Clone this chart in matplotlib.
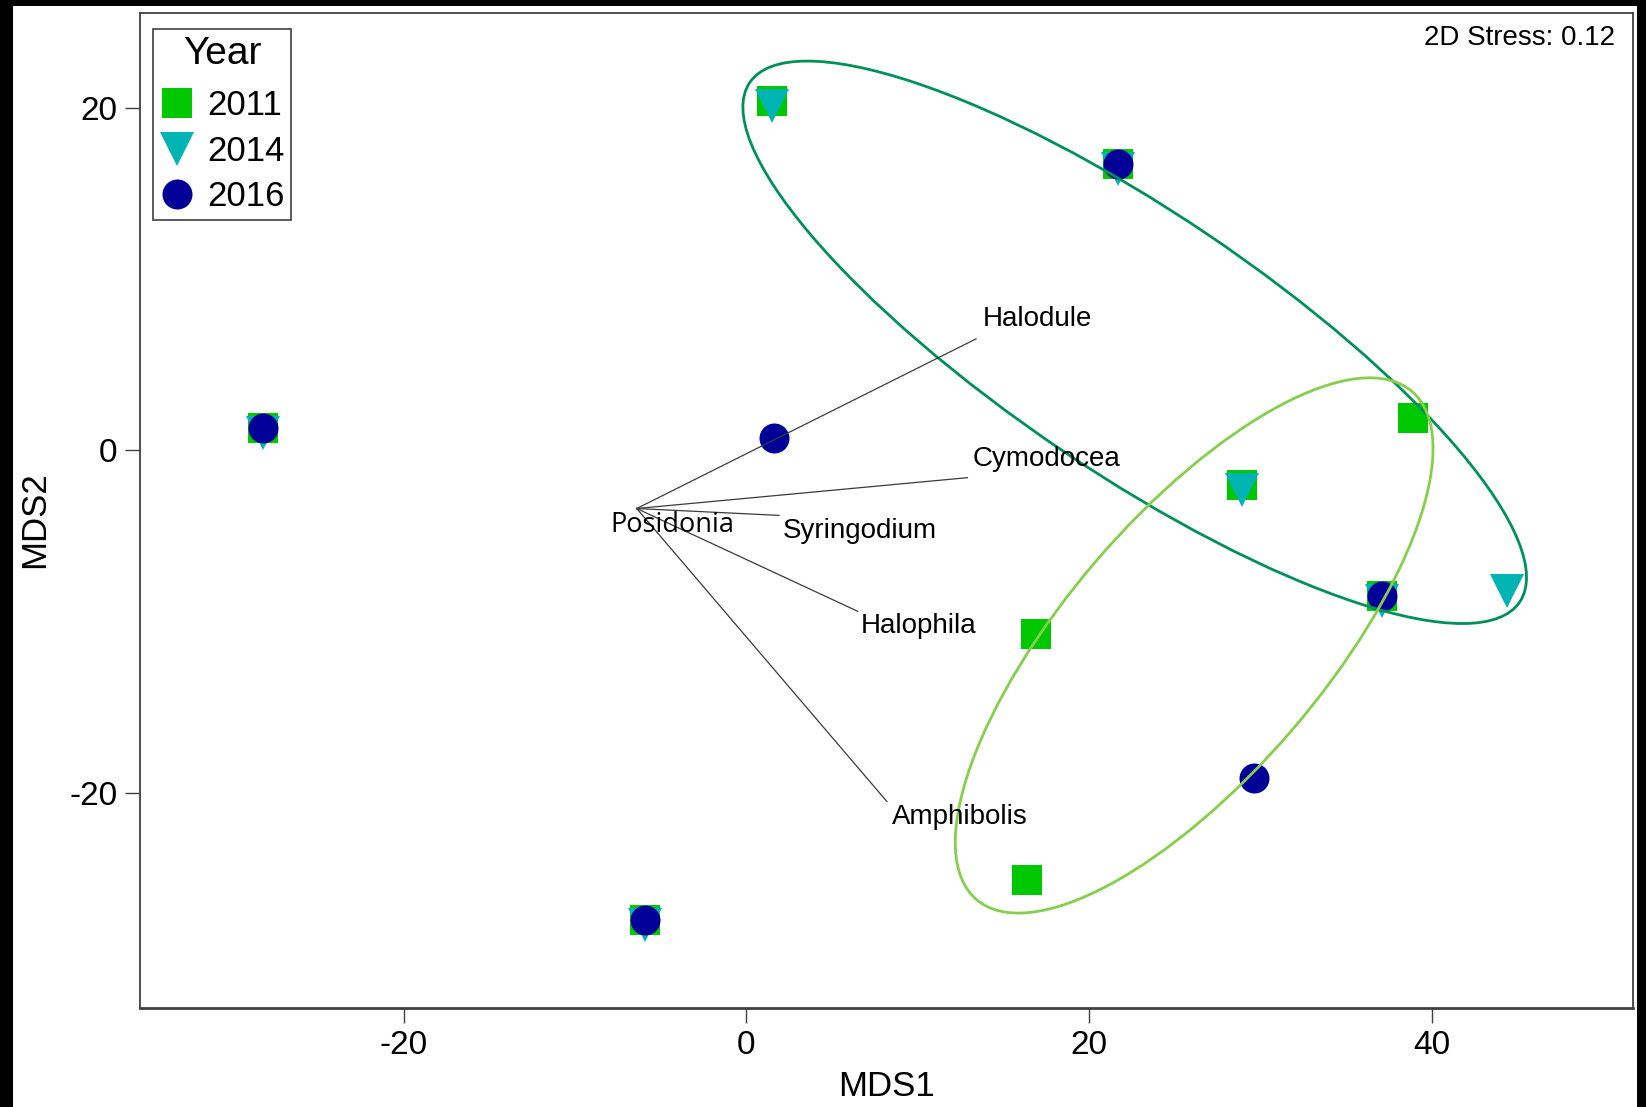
import matplotlib
matplotlib.use("Agg")
from matplotlib import pyplot as plt
from matplotlib.patches import Ellipse, Rectangle
from matplotlib.lines import Line2D

plt.rcParams['font.family'] = ['Liberation Sans', 'DejaVu Sans']
plt.rcParams['axes.unicode_minus'] = False

# nMDS scores per survey year
x_2011 = [1.5, 21.7, -28.2, 38.9, 28.9, 37.1, 16.9, 16.4, -5.9]
y_2011 = [20.4, 16.7, 1.3, 1.9, -2.0, -8.5, -10.7, -25.1, -27.4]
x_2014 = [1.5, 21.7, -28.2, 28.9, 37.1, 44.4, -5.9]
y_2014 = [20.1, 16.4, 1.0, -2.3, -8.8, -8.2, -27.7]
x_2016 = [21.7, -28.2, 1.6, 37.1, 29.6, -5.9]
y_2016 = [16.7, 1.3, 0.7, -8.5, -19.1, -27.4]

# species vectors (start at the Posidonia point)
species = ['Halodule', 'Cymodocea', 'Syringodium', 'Halophila', 'Amphibolis']
vec_x = [13.4, 12.9, 1.9, 6.5, 8.2]
vec_y = [6.5, -1.6, -3.8, -9.4, -20.5]
origin_name = 'Posidonia'
origin_x = -6.4
origin_y = -3.4

# group ellipses: centre x, centre y, width, height, angle
ell_dark = [22.66, 6.3, 54.2, 15.2, -34.0]
ell_light = [26.13, -11.39, 39.05, 15.1, 49.4]

stress = 0.12

# label offsets in points
lab_off = [(4.5, 14), (4, 13.5), (3, -11), (2.5, -10.5), (3.5, -11)]

W, H = 1646, 1107
fig = plt.figure(figsize=(W / 100, H / 100), dpi=100, facecolor='black')
fig.patches.append(Rectangle((13 / W, 0), (1637 - 13) / W, 1 - 6 / H,
                             transform=fig.transFigure, facecolor='white',
                             edgecolor='none', zorder=-5))

ax = fig.add_axes([139.6 / W, 1 - 1007.7 / H, (1632.5 - 139.6) / W, (1007.7 - 12.6) / H])
ax.set_xlim(-35.41, 51.71)
ax.set_ylim(-32.53, 25.54)

ms = 21.6
ax.plot(x_2011, y_2011, 's', color='#00C800', ms=ms, mew=0, zorder=3)
ax.plot(x_2014, y_2014, 'v', color='#00B4B4', ms=24, mew=0, zorder=4)
ax.plot(x_2016, y_2016, 'o', color='#000099', ms=ms, mew=0, zorder=5)

for e, c in [(ell_dark, '#00905A'), (ell_light, '#86CF4C')]:
    ax.add_patch(Ellipse((e[0], e[1]), e[2], e[3], angle=e[4], fill=False,
                         edgecolor=c, lw=2, zorder=6))

for i in range(len(species)):
    ax.plot([origin_x, vec_x[i]], [origin_y, vec_y[i]], color='#3a3a3a', lw=0.9, zorder=7)
    ax.annotate(species[i], (vec_x[i], vec_y[i]), xytext=lab_off[i],
                textcoords='offset points', ha='left', va='center', fontsize=20, zorder=8)
ax.annotate(origin_name, (origin_x, origin_y), xytext=(-19, -12),
            textcoords='offset points', ha='left', va='center', fontsize=19.5,
            family=['Open Sans', 'DejaVu Sans'], zorder=8)

ax.text(0.9883, 0.9675, '2D Stress: %.2f' % stress, transform=ax.transAxes,
        ha='right', va='baseline', fontsize=20)

ax.set_xticks([-20, 0, 20, 40])
ax.set_yticks([-20, 0, 20])
ax.tick_params(direction='out', length=11, width=1, color='#404040',
               labelsize=24, pad=5)
for s in ax.spines.values():
    s.set_color('#404040')
    s.set_linewidth(1.3)
ax.spines['bottom'].set_linewidth(2)

ax.set_xlabel('MDS1', fontsize=25)
ax.set_ylabel('MDS2', fontsize=25)
ax.xaxis.set_label_coords(0.5, -0.0787)
ax.xaxis.label.set_va('center')
ax.yaxis.set_label_coords(-0.070, 0.4905)
ax.yaxis.label.set_va('center')

handles = [Line2D([], [], ls='none', marker='s', color='#00C800', ms=ms, mew=0),
           Line2D([], [], ls='none', marker='v', color='#00B4B4', ms=24, mew=0),
           Line2D([], [], ls='none', marker='o', color='#000099', ms=ms, mew=0)]
leg = ax.legend(handles, ['2011', '2014', '2016'], title='Year', loc='upper left',
                bbox_to_anchor=(0.009, 0.9835), fontsize=25, title_fontsize=28,
                frameon=True, fancybox=False, edgecolor='#404040', framealpha=1,
                borderaxespad=0, borderpad=0.2, handlelength=1.0, handletextpad=0.35,
                labelspacing=0.36)
leg.get_frame().set_linewidth(1.2)
# a bit more room under the title
leg._legend_box.sep = 12.5

fig.savefig('out.png', dpi=100, facecolor=fig.get_facecolor())
